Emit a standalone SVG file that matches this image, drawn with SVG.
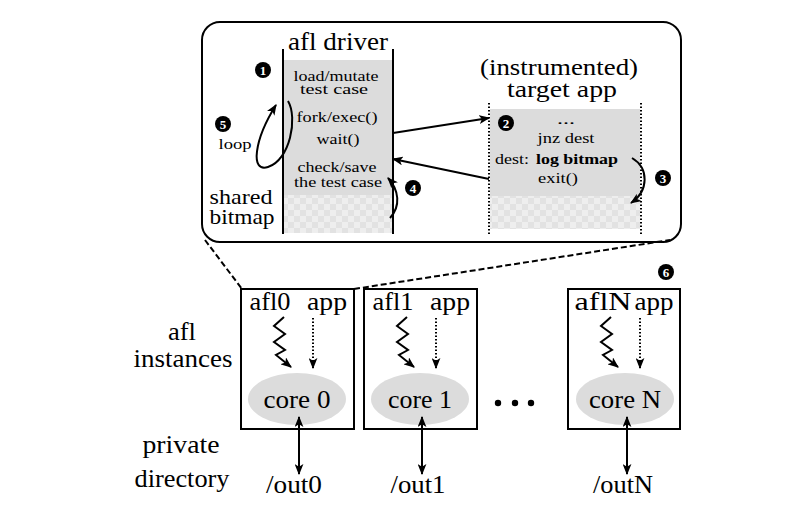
<svg xmlns="http://www.w3.org/2000/svg" width="808" height="506" viewBox="0 0 808 506">
<style>
text{font-family:"Liberation Serif","DejaVu Serif",serif;fill:#000}
.t22{font-size:25px}
.t23{font-size:23px}
.t21{font-size:21px}
.t14{font-size:14.5px}
.m{text-anchor:middle}
.num{font-family:"Liberation Serif","DejaVu Serif",serif;font-size:13px;font-weight:bold;fill:#fff;text-anchor:middle}
.ln{stroke:#000;stroke-width:2;fill:none}
.dash{stroke:#000;stroke-width:2;fill:none;stroke-dasharray:6 3}
.dot{stroke:#000;stroke-width:2;fill:none;stroke-dasharray:1.5 2}
.gray{fill:#dcdcdc}
.box{fill:#fff;stroke:#000;stroke-width:2}
</style>
<defs>
<marker id="ah" viewBox="0 0 10 8" refX="9" refY="4" markerWidth="11" markerHeight="9" markerUnits="userSpaceOnUse" orient="auto-start-reverse">
<path d="M0,0 L10,4 L0,8 L2.5,4 z" fill="#000"/>
</marker>
<pattern id="chk" x="0" y="0" width="12" height="12" patternUnits="userSpaceOnUse">
<rect width="12" height="12" fill="#e2e2e2"/>
<rect width="6" height="6" fill="#eeeeee"/>
<rect x="6" y="6" width="6" height="6" fill="#eeeeee"/>
</pattern>
</defs>

<g id="top-box">
<rect x="202" y="22" width="479" height="220" rx="18" fill="#fff" stroke="#000" stroke-width="2"/>
</g>

<g id="afl-driver">
<rect x="284" y="60" width="108" height="173" class="gray"/>
<rect x="284" y="195" width="108" height="38" fill="url(#chk)"/>
<line x1="283" y1="49" x2="283" y2="234" class="ln"/>
<line x1="393" y1="49" x2="393" y2="234" class="ln"/>
<text class="t22 m" x="338" y="50" textLength="100" lengthAdjust="spacingAndGlyphs">afl driver</text>
<text class="t14 m" x="336" y="81" textLength="85" lengthAdjust="spacingAndGlyphs">load/mutate</text>
<text class="t14 m" x="334" y="94" textLength="68" lengthAdjust="spacingAndGlyphs">test case</text>
<text class="t14 m" x="337" y="122" textLength="81" lengthAdjust="spacingAndGlyphs">fork/exec()</text>
<text class="t14 m" x="338" y="144" textLength="43" lengthAdjust="spacingAndGlyphs">wait()</text>
<text class="t14 m" x="337" y="172" textLength="79" lengthAdjust="spacingAndGlyphs">check/save</text>
<text class="t14 m" x="338" y="187" textLength="88" lengthAdjust="spacingAndGlyphs">the test case</text>
<text class="t21 m" x="241" y="204" textLength="63" lengthAdjust="spacingAndGlyphs">shared</text>
<text class="t21 m" x="242" y="224" textLength="65" lengthAdjust="spacingAndGlyphs">bitmap</text>
<text class="t14 m" x="235" y="149" textLength="33" lengthAdjust="spacingAndGlyphs">loop</text>
</g>

<g id="target-app">
<rect x="490" y="109" width="150" height="120" class="gray"/>
<rect x="490" y="196" width="150" height="33" fill="url(#chk)"/>
<line x1="489" y1="103" x2="489" y2="234" class="dot"/>
<line x1="641" y1="103" x2="641" y2="234" class="dot"/>
<text class="t23 m" x="559" y="75" textLength="158" lengthAdjust="spacingAndGlyphs">(instrumented)</text>
<text class="t23 m" x="562" y="97" textLength="110" lengthAdjust="spacingAndGlyphs">target app</text>
<text class="t14 m" x="566" y="124" textLength="18" lengthAdjust="spacingAndGlyphs">...</text>
<text class="t14 m" x="566" y="143" textLength="57" lengthAdjust="spacingAndGlyphs">jnz dest</text>
<text class="t14" x="495" y="164" textLength="34" lengthAdjust="spacingAndGlyphs">dest:</text>
<text class="t14" x="536" y="164" font-weight="bold" textLength="82" lengthAdjust="spacingAndGlyphs">log bitmap</text>
<text class="t14 m" x="558" y="183" textLength="40" lengthAdjust="spacingAndGlyphs">exit()</text>
</g>

<g id="steps">
<g transform="translate(263,70)"><circle r="8"/><text class="num" y="4.5">1</text></g>
<g transform="translate(506,123)"><circle r="8"/><text class="num" y="4.5">2</text></g>
<g transform="translate(663,178)"><circle r="8"/><text class="num" y="4.5">3</text></g>
<g transform="translate(413,188)"><circle r="8"/><text class="num" y="4.5">4</text></g>
<g transform="translate(223,124)"><circle r="8"/><text class="num" y="4.5">5</text></g>
<g transform="translate(666,272)"><circle r="8"/><text class="num" y="4.5">6</text></g>
</g>

<g id="labels">
<text class="t22 m" x="182" y="340" textLength="28" lengthAdjust="spacingAndGlyphs">afl</text>
<text class="t22 m" x="183" y="367" textLength="99" lengthAdjust="spacingAndGlyphs">instances</text>
<text class="t22 m" x="181" y="453" textLength="77" lengthAdjust="spacingAndGlyphs">private</text>
<text class="t22 m" x="182" y="487" textLength="95" lengthAdjust="spacingAndGlyphs">directory</text>
<circle cx="498" cy="403" r="3.2"/>
<circle cx="515" cy="403" r="3.2"/>
<circle cx="531" cy="403" r="3.2"/>
</g>

<g id="instance-0">
<rect x="241" y="289" width="113" height="140" class="box"/>
<ellipse cx="297" cy="399" rx="49" ry="26" class="gray"/>
<text class="t22 m" x="270" y="310" textLength="41" lengthAdjust="spacingAndGlyphs">afl0</text>
<text class="t22 m" x="327" y="310" textLength="40" lengthAdjust="spacingAndGlyphs">app</text>
<text class="t22 m" x="297" y="408" textLength="67" lengthAdjust="spacingAndGlyphs">core 0</text>
<text class="t22 m" x="294" y="493" textLength="56" lengthAdjust="spacingAndGlyphs">/out0</text>
</g>
<g id="instance-1">
<rect x="364" y="289" width="113" height="140" class="box"/>
<ellipse cx="420" cy="399" rx="49" ry="26" class="gray"/>
<text class="t22 m" x="393" y="310" textLength="41" lengthAdjust="spacingAndGlyphs">afl1</text>
<text class="t22 m" x="450" y="310" textLength="40" lengthAdjust="spacingAndGlyphs">app</text>
<text class="t22 m" x="420" y="408" textLength="64" lengthAdjust="spacingAndGlyphs">core 1</text>
<text class="t22 m" x="418" y="493" textLength="55" lengthAdjust="spacingAndGlyphs">/out1</text>
</g>
<g id="instance-N">
<rect x="568" y="289" width="112" height="140" class="box"/>
<ellipse cx="625" cy="399" rx="49" ry="26" class="gray"/>
<text class="t22 m" x="603" y="310" textLength="57" lengthAdjust="spacingAndGlyphs">aflN</text>
<text class="t22 m" x="654" y="310" textLength="39" lengthAdjust="spacingAndGlyphs">app</text>
<text class="t22 m" x="625" y="408" textLength="72" lengthAdjust="spacingAndGlyphs">core N</text>
<text class="t22 m" x="623" y="493" textLength="60" lengthAdjust="spacingAndGlyphs">/outN</text>
</g>

<g id="connectors">
<line x1="393" y1="133" x2="489" y2="118" class="ln" marker-end="url(#ah)"/>
<line x1="489" y1="179" x2="393" y2="159" class="ln" marker-end="url(#ah)"/>
<path d="M288,101 C298,118 290,160 268,167 C250,173 254,140 276,105" class="ln" marker-end="url(#ah)"/>
<path d="M390,218 C401,206 399,190 388,178" class="ln" marker-end="url(#ah)"/>
<path d="M632,158 C649,168 649,191 631,203" class="ln" marker-end="url(#ah)"/>
<path d="M205,240 L242,289" class="dash"/>
<path d="M354,289 L670,240" class="dash"/>
<path d="M284,317 l-10,9 l11,8 l-11,8 l11,8 l-9,5 L291,367" class="ln" marker-end="url(#ah)"/>
<path d="M407,317 l-10,9 l11,8 l-11,8 l11,8 l-9,5 L414,367" class="ln" marker-end="url(#ah)"/>
<path d="M611,317 l-10,9 l11,8 l-11,8 l11,8 l-9,5 L618,367" class="ln" marker-end="url(#ah)"/>
<line x1="313" y1="318" x2="313" y2="368" class="dot" marker-end="url(#ah)"/>
<line x1="436" y1="318" x2="436" y2="368" class="dot" marker-end="url(#ah)"/>
<line x1="640" y1="318" x2="640" y2="368" class="dot" marker-end="url(#ah)"/>
<line x1="299" y1="417" x2="299" y2="474" class="ln" marker-start="url(#ah)" marker-end="url(#ah)"/>
<line x1="422" y1="417" x2="422" y2="474" class="ln" marker-start="url(#ah)" marker-end="url(#ah)"/>
<line x1="627" y1="417" x2="627" y2="474" class="ln" marker-start="url(#ah)" marker-end="url(#ah)"/>
</g>
</svg>
